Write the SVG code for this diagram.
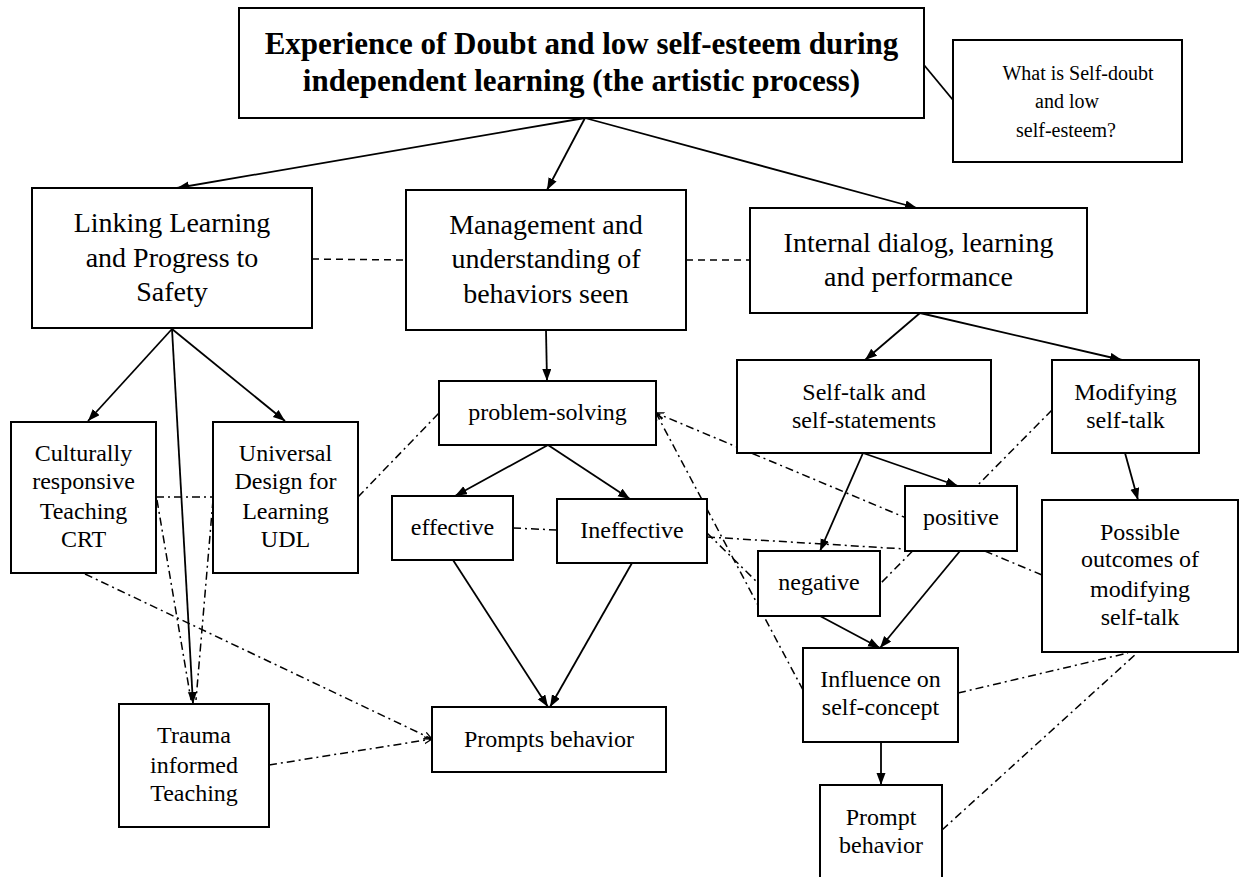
<svg xmlns="http://www.w3.org/2000/svg" width="1256" height="877" viewBox="0 0 1256 877">
<defs>
<style>
.box{fill:#fff;stroke:#000;stroke-width:2}
.t{font-family:"Liberation Serif","Times New Roman",serif;fill:#000;text-anchor:middle}
.s20{font-size:20px}
.s24{font-size:24px}
.s28{font-size:28px}
.title{font-size:31px;font-weight:bold}
.solid{stroke:#000;stroke-width:1.8;fill:none}
.arr{marker-end:url(#ah)}
.dash{stroke:#000;stroke-width:1.5;fill:none;stroke-dasharray:7 5}
.dd{stroke:#000;stroke-width:1.5;fill:none;stroke-dasharray:8 4 2 4}
.oa{marker-end:url(#oh)}
</style>
<marker id="ah" markerUnits="userSpaceOnUse" markerWidth="13" markerHeight="10" refX="12" refY="4.5" orient="auto">
<path d="M0,0 L12,4.5 L0,9 z" fill="#000"/>
</marker>
<marker id="oh" markerUnits="userSpaceOnUse" markerWidth="10" markerHeight="9" refX="8" refY="4" orient="auto">
<path d="M0,0.5 L8,4 L0,7.5" fill="none" stroke="#000" stroke-width="1.3"/>
</marker>
</defs>
<rect width="1256" height="877" fill="#fff"/>
<g id="connectors">
<line class="solid arr" x1="585" y1="118" x2="177" y2="188"/>
<line class="solid arr" x1="585" y1="118" x2="547" y2="190"/>
<line class="solid arr" x1="585" y1="118" x2="917" y2="208"/>
<line class="solid" x1="924" y1="65" x2="953" y2="100"/>
<line class="dash" x1="312" y1="259" x2="406" y2="260"/>
<line class="dash" x1="686" y1="260" x2="750" y2="260"/>
<line class="solid arr" x1="172" y1="329" x2="88" y2="421"/>
<line class="solid arr" x1="172" y1="329" x2="285" y2="421"/>
<line class="solid arr" x1="172" y1="329" x2="193" y2="704"/>
<line class="solid arr" x1="546" y1="330" x2="547" y2="381"/>
<line class="solid arr" x1="548" y1="445" x2="455" y2="496"/>
<line class="solid arr" x1="548" y1="445" x2="630" y2="499"/>
<line class="solid arr" x1="453" y1="560" x2="548" y2="707"/>
<line class="solid arr" x1="632" y1="563" x2="550" y2="707"/>
<line class="solid arr" x1="920" y1="313" x2="865" y2="360"/>
<line class="solid arr" x1="920" y1="313" x2="1122" y2="360"/>
<line class="solid arr" x1="863" y1="453" x2="820" y2="551"/>
<line class="solid arr" x1="863" y1="453" x2="958" y2="486"/>
<line class="solid arr" x1="1125" y1="453" x2="1138" y2="500"/>
<line class="solid arr" x1="820" y1="616" x2="880" y2="648"/>
<line class="solid arr" x1="960" y1="551" x2="880" y2="648"/>
<line class="solid arr" x1="881" y1="742" x2="881" y2="785"/>
<line class="dd" x1="156" y1="497" x2="213" y2="497"/>
<line class="dd" x1="157" y1="500" x2="191" y2="700"/>
<line class="dd" x1="213" y1="500" x2="196" y2="700"/>
<line class="dd oa" x1="85" y1="574" x2="432" y2="739"/>
<line class="dd oa" x1="269" y1="765" x2="432" y2="739"/>
<line class="dd" x1="358" y1="497" x2="439" y2="413"/>
<line class="dd" x1="513" y1="528" x2="557" y2="530"/>
<line class="dd oa" x1="1042" y1="575" x2="656" y2="413"/>
<line class="dd oa" x1="803" y1="690" x2="656" y2="413"/>
<line class="dd" x1="707" y1="533" x2="758" y2="583"/>
<line class="dd" x1="707" y1="537" x2="905" y2="549"/>
<line class="dd" x1="1052" y1="410" x2="880" y2="584"/>
<line class="dd" x1="958" y1="693" x2="1128" y2="653"/>
<line class="dd" x1="942" y1="830" x2="1137" y2="653"/>
</g>
<g id="node-main">
<rect class="box" x="239" y="8" width="685" height="110"/>
<text class="t title" x="581.5" y="54">Experience of Doubt and low self-esteem during</text>
<text class="t title" x="581.5" y="91">independent learning (the artistic process)</text>
</g>
<g id="node-what">
<rect class="box" x="953" y="40" width="229" height="122"/>
<text class="t s20" x="1078" y="80">What is Self-doubt</text>
<text class="t s20" x="1067" y="108">and low</text>
<text class="t s20" x="1066" y="137">self-esteem?</text>
</g>
<g id="node-linking">
<rect class="box" x="32" y="188" width="280" height="140"/>
<text class="t s28" x="172" y="232">Linking Learning</text>
<text class="t s28" x="172" y="267">and Progress to</text>
<text class="t s28" x="172" y="301">Safety</text>
</g>
<g id="node-management">
<rect class="box" x="406" y="190" width="280" height="140"/>
<text class="t s28" x="546" y="234">Management and</text>
<text class="t s28" x="546" y="268">understanding of</text>
<text class="t s28" x="546" y="303">behaviors seen</text>
</g>
<g id="node-internal">
<rect class="box" x="750" y="208" width="337" height="105"/>
<text class="t s28" x="918.5" y="252">Internal dialog, learning</text>
<text class="t s28" x="918.5" y="286">and performance</text>
</g>
<g id="node-crt">
<rect class="box" x="11" y="422" width="145" height="151"/>
<text class="t s24" x="83.5" y="461">Culturally</text>
<text class="t s24" x="83.5" y="489">responsive</text>
<text class="t s24" x="83.5" y="519">Teaching</text>
<text class="t s24" x="83.5" y="547">CRT</text>
</g>
<g id="node-udl">
<rect class="box" x="213" y="422" width="145" height="151"/>
<text class="t s24" x="285.5" y="461">Universal</text>
<text class="t s24" x="285.5" y="489">Design for</text>
<text class="t s24" x="285.5" y="519">Learning</text>
<text class="t s24" x="285.5" y="547">UDL</text>
</g>
<g id="node-trauma">
<rect class="box" x="119" y="704" width="150" height="123"/>
<text class="t s24" x="194" y="743">Trauma</text>
<text class="t s24" x="194" y="773">informed</text>
<text class="t s24" x="194" y="801">Teaching</text>
</g>
<g id="node-problem">
<rect class="box" x="439" y="381" width="217" height="64"/>
<text class="t s24" x="547.5" y="420">problem-solving</text>
</g>
<g id="node-effective">
<rect class="box" x="392" y="496" width="121" height="64"/>
<text class="t s24" x="452.5" y="535">effective</text>
</g>
<g id="node-ineffective">
<rect class="box" x="557" y="499" width="150" height="64"/>
<text class="t s24" x="632" y="538">Ineffective</text>
</g>
<g id="node-prompts">
<rect class="box" x="432" y="707" width="234" height="65"/>
<text class="t s24" x="549" y="747">Prompts behavior</text>
</g>
<g id="node-selftalk">
<rect class="box" x="737" y="360" width="254" height="93"/>
<text class="t s24" x="864" y="400">Self-talk and</text>
<text class="t s24" x="864" y="428">self-statements</text>
</g>
<g id="node-modifying">
<rect class="box" x="1052" y="360" width="147" height="93"/>
<text class="t s24" x="1125.5" y="400">Modifying</text>
<text class="t s24" x="1125.5" y="428">self-talk</text>
</g>
<g id="node-positive">
<rect class="box" x="905" y="486" width="112" height="65"/>
<text class="t s24" x="961" y="525">positive</text>
</g>
<g id="node-negative">
<rect class="box" x="758" y="551" width="122" height="65"/>
<text class="t s24" x="819" y="590">negative</text>
</g>
<g id="node-possible">
<rect class="box" x="1042" y="500" width="196" height="152"/>
<text class="t s24" x="1140" y="540">Possible</text>
<text class="t s24" x="1140" y="567">outcomes of</text>
<text class="t s24" x="1140" y="597">modifying</text>
<text class="t s24" x="1140" y="625">self-talk</text>
</g>
<g id="node-influence">
<rect class="box" x="803" y="648" width="155" height="94"/>
<text class="t s24" x="880.5" y="687">Influence on</text>
<text class="t s24" x="880.5" y="715">self-concept</text>
</g>
<g id="node-prompt">
<rect class="box" x="820" y="785" width="122" height="100"/>
<text class="t s24" x="881" y="825">Prompt</text>
<text class="t s24" x="881" y="853">behavior</text>
</g>
</svg>
